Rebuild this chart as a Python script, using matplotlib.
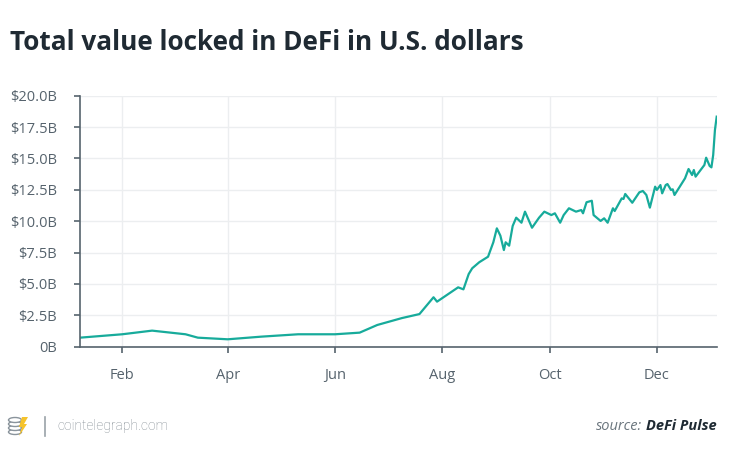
import matplotlib
matplotlib.use("Agg")
import matplotlib.pyplot as plt
import matplotlib.patches as mpatches
import pandas as pd

# data (TVL in billions of USD)
dates = [
    "2020-01-08", "2020-02-01", "2020-02-18", "2020-03-08", "2020-03-15",
    "2020-04-01", "2020-04-20", "2020-05-11", "2020-06-01", "2020-06-15",
    "2020-06-25", "2020-07-09", "2020-07-19", "2020-07-27", "2020-07-29",
    "2020-08-10", "2020-08-13", "2020-08-16", "2020-08-18", "2020-08-22",
    "2020-08-27", "2020-08-30", "2020-09-01", "2020-09-03", "2020-09-05",
    "2020-09-06", "2020-09-08", "2020-09-10", "2020-09-12", "2020-09-15",
    "2020-09-17", "2020-09-21", "2020-09-25", "2020-09-28", "2020-10-02",
    "2020-10-04", "2020-10-07", "2020-10-09", "2020-10-12", "2020-10-16",
    "2020-10-19", "2020-10-20", "2020-10-22", "2020-10-25", "2020-10-26",
    "2020-10-30", "2020-11-01", "2020-11-03", "2020-11-06", "2020-11-07",
    "2020-11-11", "2020-11-12", "2020-11-13", "2020-11-17", "2020-11-21",
    "2020-11-23", "2020-11-25", "2020-11-27", "2020-11-30", "2020-12-01",
    "2020-12-03", "2020-12-04", "2020-12-06", "2020-12-07", "2020-12-09",
    "2020-12-10", "2020-12-11", "2020-12-14", "2020-12-17", "2020-12-19",
    "2020-12-21", "2020-12-22", "2020-12-23", "2020-12-28", "2020-12-29",
    "2020-12-31", "2021-01-01", "2021-01-02", "2021-01-03", "2021-01-04",
]
tvl = [
    0.72, 0.99, 1.28, 0.99, 0.72,
    0.59, 0.80, 0.99, 0.99, 1.12,
    1.73, 2.28, 2.60, 3.94, 3.59,
    4.73, 4.57, 5.79, 6.25, 6.73,
    7.17, 8.32, 9.43, 8.85, 7.70,
    8.32, 8.05, 9.62, 10.28, 9.88,
    10.76, 9.48, 10.28, 10.76, 10.49,
    10.63, 9.88, 10.49, 11.03, 10.76,
    10.89, 10.63, 11.51, 11.63, 10.49,
    10.02, 10.23, 9.88, 11.03, 10.81,
    11.82, 11.77, 12.17, 11.47, 12.30,
    12.41, 12.09, 11.08, 12.75, 12.49,
    12.88, 12.22, 12.88, 12.96, 12.49,
    12.54, 12.09, 12.75, 13.42, 14.16,
    13.68, 14.08, 13.55, 14.48, 15.06,
    14.40, 14.29, 15.27, 17.27, 18.33,
]
y_ticks = [0, 2.5, 5, 7.5, 10, 12.5, 15, 17.5, 20]
y_labels = ["0B", "$2.5B", "$5.0B", "$7.5B", "$10.0B", "$12.5B",
            "$15.0B", "$17.5B", "$20.0B"]
x_ticks = ["2020-02-01", "2020-04-01", "2020-06-01", "2020-08-01",
           "2020-10-01", "2020-12-01"]
x_labels = ["Feb", "Apr", "Jun", "Aug", "Oct", "Dec"]

title_text = "Total value locked in DeFi in U.S. dollars"

# colours
line_color = "#17ab9b"
text_dark = "#1f2a33"
tick_color = "#56636d"
grid_color = "#eceef0"
spine_color = "#56636d"

plt.rcParams["font.family"] = ["Open Sans", "DejaVu Sans"]

fig = plt.figure(figsize=(7.5, 4.58), dpi=100)
ax = fig.add_axes([80 / 750, 1 - 346.7 / 458, (716.7 - 80) / 750, (346.7 - 95.7) / 458])

x = pd.to_datetime(dates)
ax.plot(x, tvl, color=line_color, lw=1.6)

ax.set_ylim(0, 20)
ax.set_xlim(pd.Timestamp("2020-01-08"), pd.Timestamp("2021-01-04"))

ax.set_yticks(y_ticks)
ax.set_yticklabels(y_labels)
ax.set_xticks(pd.to_datetime(x_ticks))
ax.set_xticklabels(x_labels)

ax.grid(True, color=grid_color, lw=1)
ax.set_axisbelow(True)

for side in ["top", "right"]:
    ax.spines[side].set_visible(False)
for side in ["left", "bottom"]:
    ax.spines[side].set_color(spine_color)
    ax.spines[side].set_linewidth(1.2)

ax.tick_params(axis="y", colors=tick_color, labelsize=10.5, length=4.5, width=1.2, pad=12)
ax.tick_params(axis="x", colors=tick_color, labelsize=10.5, length=4.5, width=1.2, pad=11)
for lab in ax.get_xticklabels() + ax.get_yticklabels():
    lab.set_color(tick_color)

# title
fig.text(10 / 750, 1 - 42 / 458, title_text, fontsize=18.8, fontweight="bold",
         color=text_dark, va="center", ha="left")

# footer: logo, divider, site name, source
fy = 1 - 426 / 458
for cy in [432, 428, 424, 420]:
    e = mpatches.Ellipse((15 / 750, 1 - cy / 458), 13 / 750, 5 / 458,
                         transform=fig.transFigure, facecolor="white",
                         edgecolor="#8a949c", lw=1.0)
    fig.patches.append(e)
bolt_pts = [(22, 417), (28, 417), (24, 424), (27, 424), (19, 436), (22, 427), (19, 427)]
bolt = mpatches.Polygon([(px / 750, 1 - py / 458) for px, py in bolt_pts], closed=True,
                        transform=fig.transFigure, facecolor="#f5c32c", edgecolor="none")
fig.patches.append(bolt)
fig.add_artist(plt.Line2D([45 / 750, 45 / 750], [1 - 417 / 458, 1 - 436 / 458],
                          color="#9aa2a8", lw=1.2, transform=fig.transFigure))
fig.text(57 / 750, fy, "cointelegraph.com", fontsize=10, color="#808a91",
         family=["Roboto", "DejaVu Sans"], fontweight="light", va="center", ha="left")

src = fig.text(717 / 750, fy, "DeFi Pulse", fontsize=10.5, color=text_dark,
               fontweight="bold", style="italic", va="center", ha="right")
fig.canvas.draw()
bb = src.get_window_extent()
fig.text(bb.x0 / 750 - 4 / 750, fy, "source:", fontsize=10.5, color="#6b767e",
         style="italic", va="center", ha="right")

fig.savefig("out.png", dpi=100)
